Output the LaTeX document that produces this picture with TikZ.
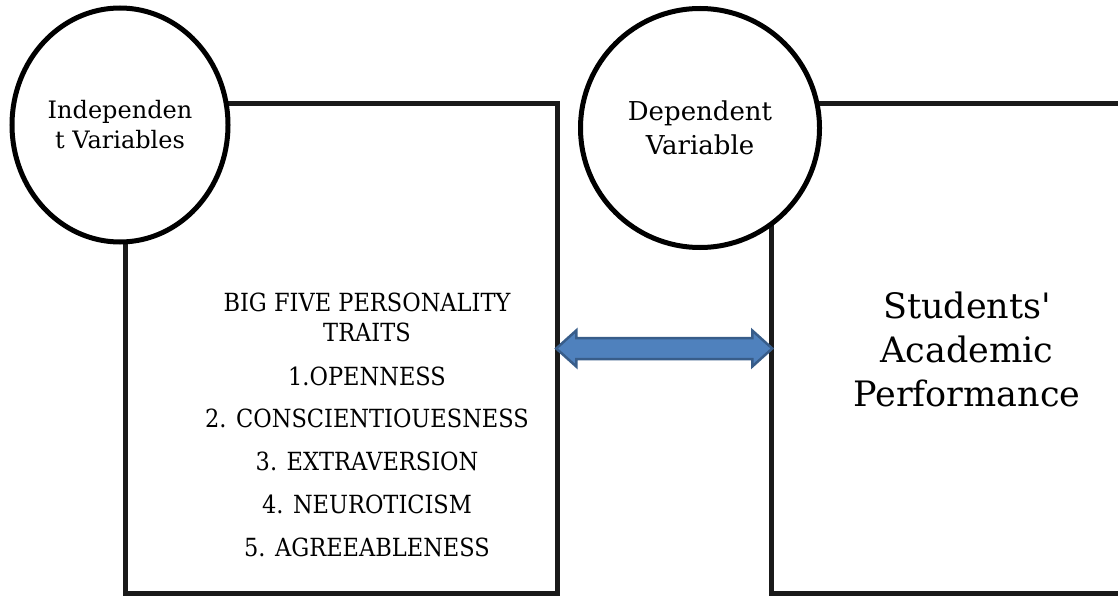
\documentclass[tikz,border=0pt]{standalone}
\usepackage{fontspec}
\setmainfont{DejaVu Serif}
\newfontfamily\capsfont[FakeStretch = 0.9]{DejaVu Serif}
\usepackage{tikz}
\usetikzlibrary{arrows,shapes.arrows,positioning,shapes,calc}
\definecolor{arrowfill}{HTML}{4F81BD}
\definecolor{arrowline}{HTML}{385D8A}
\definecolor{frameline}{HTML}{1A1A1A}

\begin{document}
\begin{tikzpicture}[x = 1pt, y = -1pt,
	framebox/.style = {draw = frameline, line width = 5pt, rectangle, inner sep = 0pt},
	varbubble/.style = {draw = black, fill = white, line width = 5pt, ellipse, inner sep = 0pt, align = center}]
	\useasboundingbox (0,0) rectangle (1118,596);
	\clip (0,0) rectangle (1118,596);
	\node[framebox, minimum width = 431.5pt, minimum height = 489pt] (ivbox) at (341.25,348.5) {};
	\node[framebox, minimum width = 391.5pt, minimum height = 489pt] (dvbox) at (967.25,348.5) {};
	\node[varbubble, minimum width = 216pt, minimum height = 234pt, font = \fontsize{24}{30}\selectfont] (iv) at (120,125) {Independen\\t Variables};
	\node[varbubble, minimum width = 239pt, minimum height = 239pt, font = \fontsize{26}{34}\selectfont] (dv) at (700,128) {Dependent\\Variable};
	\node[align = center, font = \capsfont\fontsize{25}{30}\selectfont] (traits) at (367,424.75) {BIG FIVE PERSONALITY\\TRAITS\\[14.3pt]1.OPENNESS\\[12pt]2. CONSCIENTIOUESNESS\\[12.7pt]3. EXTRAVERSION\\[12.7pt]4. NEUROTICISM\\[12.7pt]5. AGREEABLENESS};
	\node[align = center, font = \fontsize{35}{44}\selectfont] (performance) at (967,349) {Students\textquotesingle\\Academic\\Performance};
	%\draw[<->] (ivbox.east) -- (dvbox.west);
	\node[double arrow, draw = arrowline, fill = arrowfill, line width = 2.5pt, minimum height = 216pt, minimum width = 0pt, inner xsep = 0pt, inner ysep = 9.25pt, double arrow head extend = 7.5pt, double arrow tip angle = 84] (link) at ($(ivbox.east)!.5!(dvbox.west)$) {};
\end{tikzpicture}
\end{document}
